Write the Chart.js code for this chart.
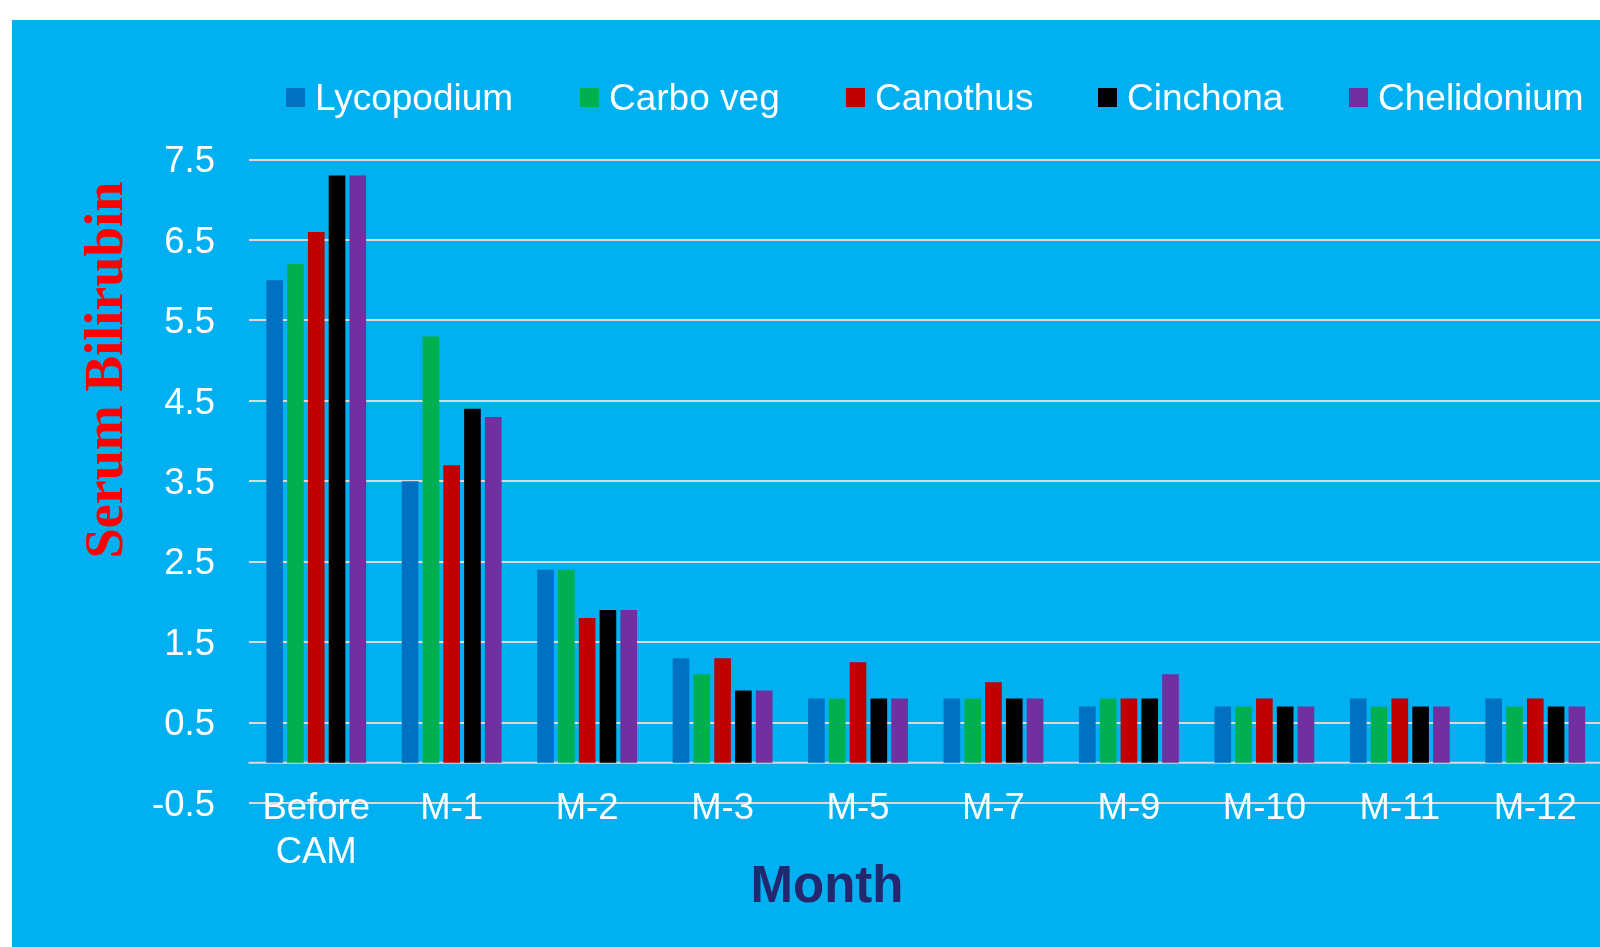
<!DOCTYPE html>
<html>
<head>
<meta charset="utf-8">
<title>Serum Bilirubin by Month</title>
<script src="https://cdn.jsdelivr.net/npm/chart.js@4/dist/chart.umd.min.js"></script>
<style>
  html, body { margin: 0; padding: 0; background: #ffffff; width: 1600px; height: 947px; overflow: hidden; }
  #wrap { position: relative; width: 1600px; height: 947px; overflow: hidden; }
  #panel { position: absolute; left: 12px; top: 20px; width: 1588px; height: 927px; background: #00B0F0; }
  #chart { position: absolute; left: 0; top: 0; }
  #legend {
    position: absolute; left: 0; top: 79px; width: 1600px; height: 40px;
    font-family: "Liberation Sans", Arial, sans-serif; font-size: 37px; line-height: 37px; color: #ffffff;
    white-space: nowrap;
  }
  .item { position: absolute; top: 0; display: flex; align-items: flex-start; }
  .swatch { width: 19px; height: 19px; margin-top: 9px; margin-right: 10px; flex: none; }
</style>
</head>
<body>
<div id="wrap">
  <div id="panel"></div>
  <canvas id="chart" width="1603" height="947"></canvas>
  <div id="legend"></div>
</div>
<script>
// Categories (months of treatment)
const months = [['Before', 'CAM'], 'M-1', 'M-2', 'M-3', 'M-5', 'M-7', 'M-9', 'M-10', 'M-11', 'M-12'];

// Serum bilirubin per remedy
const lycopodium  = [6.0, 3.5, 2.4, 1.3, 0.8,  0.8, 0.7, 0.7, 0.8, 0.8];
const carboVeg    = [6.2, 5.3, 2.4, 1.1, 0.8,  0.8, 0.8, 0.7, 0.7, 0.7];
const canothus    = [6.6, 3.7, 1.8, 1.3, 1.25, 1.0, 0.8, 0.8, 0.8, 0.8];
const cinchona    = [7.3, 4.4, 1.9, 0.9, 0.8,  0.8, 0.8, 0.7, 0.7, 0.7];
const chelidonium = [7.3, 4.3, 1.9, 0.9, 0.8,  0.8, 1.1, 0.7, 0.7, 0.7];

const seriesNames  = ['Lycopodium', 'Carbo veg', 'Canothus', 'Cinchona', 'Chelidonium'];
const seriesValues = [lycopodium, carboVeg, canothus, cinchona, chelidonium];
const seriesColors = ['#0070C0', '#00B050', '#C00000', '#000000', '#7030A0'];

// Value axis ticks
const yTickValues = [-0.5, 0.5, 1.5, 2.5, 3.5, 4.5, 5.5, 6.5, 7.5];

const yTitle = 'Serum Bilirubin';
const xTitle = 'Month';

// Legend layout: left edge of each entry
const legendLeft = [286, 580, 846, 1098, 1349];

const SANS = '"Liberation Sans", Arial, sans-serif';
const SERIF = '"Liberation Serif", "Times New Roman", serif';
const GRID = '#D9D9D9';

// Line at zero where the category axis crosses, plus the axis titles
const extras = {
  id: 'extras',
  beforeDatasetsDraw(chart) {
    const { ctx, chartArea, scales } = chart;
    const y0 = scales.y.getPixelForValue(0);
    ctx.save();
    ctx.strokeStyle = GRID;
    ctx.lineWidth = 2;
    ctx.beginPath();
    ctx.moveTo(chartArea.left, y0);
    ctx.lineTo(chartArea.right, y0);
    ctx.stroke();
    ctx.restore();
  },
  afterDraw(chart) {
    const { ctx } = chart;
    ctx.save();
    ctx.fillStyle = '#FF0000';
    ctx.font = 'bold 54px ' + SERIF;
    ctx.textAlign = 'center';
    ctx.textBaseline = 'alphabetic';
    ctx.translate(122, 370);
    ctx.rotate(-Math.PI / 2);
    ctx.fillText(yTitle, 0, 0);
    ctx.restore();

    ctx.save();
    ctx.fillStyle = '#24276E';
    ctx.font = 'bold 51px ' + SANS;
    ctx.textAlign = 'center';
    ctx.textBaseline = 'alphabetic';
    ctx.fillText(xTitle, 827, 902);
    ctx.restore();
  }
};

const chart = new Chart(document.getElementById('chart'), {
  type: 'bar',
  data: {
    labels: months,
    datasets: seriesNames.map((name, i) => ({
      label: name,
      data: seriesValues[i],
      backgroundColor: seriesColors[i],
      borderWidth: 0,
      categoryPercentage: 0.7675,
      barPercentage: 0.8
    }))
  },
  options: {
    responsive: false,
    animation: false,
    devicePixelRatio: 1,
    layout: { padding: { left: 0, top: 159.5, right: 0, bottom: 0 } },
    plugins: {
      legend: { display: false },
      tooltip: { enabled: false },
      title: { display: false }
    },
    scales: {
      x: {
        type: 'category',
        offset: true,
        grid: { display: false, drawTicks: false },
        border: { display: false },
        ticks: {
          color: '#ffffff',
          font: { family: SANS, size: 36.5 },
          padding: -15.5,
          maxRotation: 0,
          minRotation: 0,
          autoSkip: false
        },
        afterFit(scale) {
          scale.height = 144;
          // labels sit across the lowest gridline, so do not clip them to the axis box
          scale._computeLabelArea = () => undefined;
        }
      },
      y: {
        type: 'linear',
        min: -0.5,
        max: 7.5,
        grid: { color: GRID, lineWidth: 2, drawTicks: false },
        border: { display: false },
        ticks: {
          color: '#ffffff',
          // a tiny empty first line nudges each number a few pixels down onto its gridline
          font: { family: SANS, size: 36.5, lineHeight: 0.15 },
          padding: 33.5,
          callback: (v) => ['', v.toFixed(1)]
        },
        afterBuildTicks(scale) { scale.ticks = yTickValues.map(v => ({ value: v })); },
        afterFit(scale) { scale.width = 248.5; }
      }
    }
  },
  plugins: [extras]
});

// Legend row
const legend = document.getElementById('legend');
seriesNames.forEach((name, i) => {
  const item = document.createElement('div');
  item.className = 'item';
  item.style.left = legendLeft[i] + 'px';
  const sw = document.createElement('span');
  sw.className = 'swatch';
  sw.style.background = seriesColors[i];
  const tx = document.createElement('span');
  tx.textContent = name;
  item.appendChild(sw);
  item.appendChild(tx);
  legend.appendChild(item);
});
</script>
</body>
</html>
